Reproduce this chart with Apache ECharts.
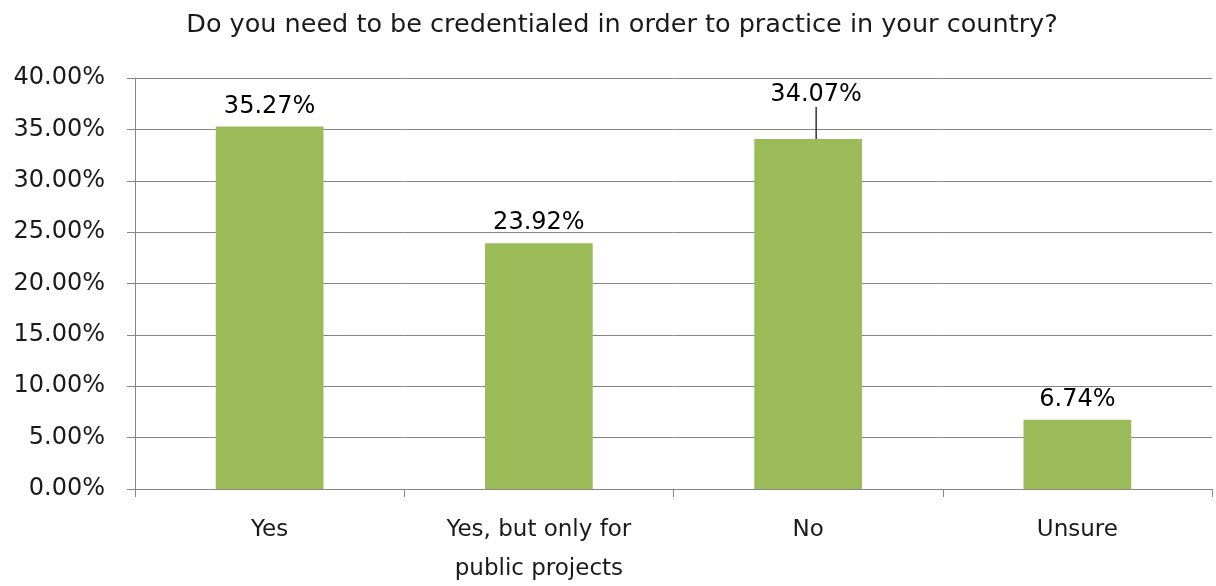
<!DOCTYPE html>
<html>
<head>
<meta charset="utf-8">
<script src="https://cdn.jsdelivr.net/npm/echarts@6/dist/echarts.min.js"></script>
<style>html,body{margin:0;padding:0;background:#fff;}#c{width:1216px;height:586px;}</style>
</head>
<body>
<div id="c"></div>
<script>
var titleText = 'Do you need to be credentialed in order to practice in your country?';
var categories = ['Yes', 'Yes, but only for\npublic projects', 'No', 'Unsure'];
var values = [35.27, 23.92, 34.07, 6.74];
var yTicks = { min: 0, max: 40, interval: 5 };
var movedLabelIndex = 2;

var FONT = "'DejaVu Sans ExtraLight', 'DejaVu Sans', sans-serif";
var seriesData = values.map(function (v, i) {
  var d = { value: v };
  if (i === movedLabelIndex) { d.labelLine = { show: true }; }
  return d;
});

var chart = echarts.init(document.getElementById('c'));
chart.setOption({
  animation: false,
  backgroundColor: '#fff',
  title: {
    text: titleText,
    left: 617, top: 7, textAlign: 'center',
    textStyle: { fontFamily: FONT, fontSize: 25.5, fontWeight: 'normal', color: '#1a1a1a' }
  },
  grid: { left: 135, right: 4, top: 78, bottom: 97, containLabel: false, outerBoundsMode: 'none' },
  xAxis: {
    type: 'category',
    data: categories,
    axisLine: { lineStyle: { color: '#868686', width: 1 } },
    axisTick: { show: true, length: 8, alignWithLabel: false, lineStyle: { color: '#868686' } },
    axisLabel: { fontFamily: FONT, fontSize: 23, color: '#1a1a1a', margin: 22, lineHeight: 39, interval: 0 }
  },
  yAxis: {
    type: 'value',
    min: yTicks.min, max: yTicks.max, interval: yTicks.interval,
    axisLine: { show: true, lineStyle: { color: '#868686', width: 1 } },
    axisTick: { show: true, length: 8, lineStyle: { color: '#868686' } },
    splitLine: { lineStyle: { color: '#868686', width: 1 } },
    axisLabel: {
      fontFamily: FONT, fontSize: 24, color: '#1a1a1a', margin: 30,
      formatter: function (v) { return v.toFixed(2) + '%'; }
    }
  },
  series: [{
    type: 'bar',
    data: seriesData,
    barWidth: '40%',
    itemStyle: { color: '#9BBB59' },
    label: {
      show: true, position: 'top', distance: 8,
      fontFamily: FONT, fontSize: 24, color: '#000',
      formatter: function (p) { return p.value.toFixed(2) + '%'; }
    },
    labelLine: { show: false, lineStyle: { color: '#000', width: 1.2 } },
    labelLayout: function (p) {
      if (p.dataIndex === movedLabelIndex) { return { dx: 8, dy: -24 }; }
      return {};
    }
  }]
});
</script>
</body>
</html>
